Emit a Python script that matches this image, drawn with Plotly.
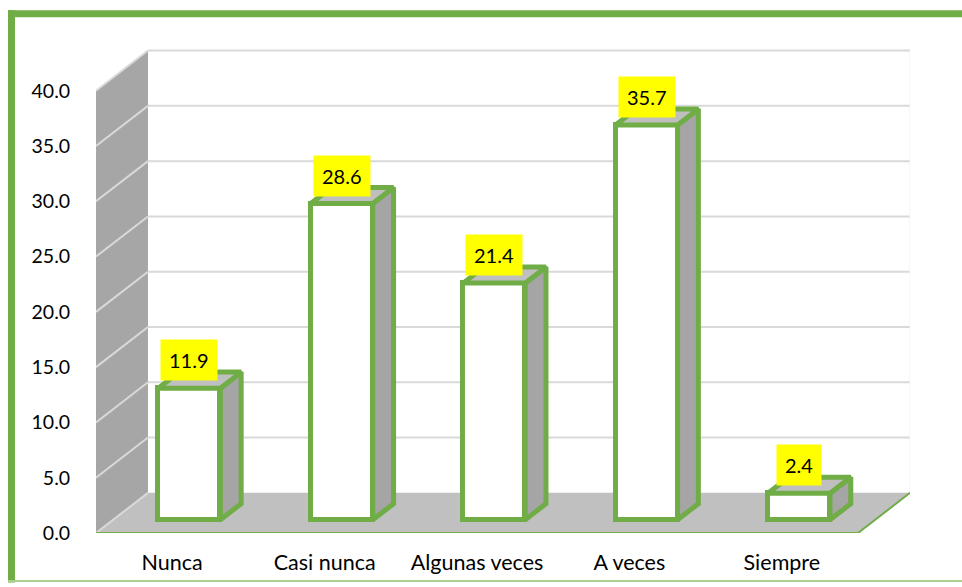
import plotly.graph_objects as go

# ---- data ----
categories = ["Nunca", "Casi nunca", "Algunas veces", "A veces", "Siempre"]
values = [11.9, 28.6, 21.4, 35.7, 2.4]
value_labels = ["11.9", "28.6", "21.4", "35.7", "2.4"]
y_ticks = [0, 5, 10, 15, 20, 25, 30, 35, 40]
y_tick_labels = ["0.0", "5.0", "10.0", "15.0", "20.0", "25.0", "30.0", "35.0", "40.0"]

# ---- style / geometry ----
GREEN = "#70ad47"
W, H = 962, 587
ML, MR, MT, MB = 96, 52, 49, 50
DX, DY = 0.341, 3.63          # depth of the 3D box (x units, y units)
F1, F2 = 0.33, 0.73           # front / back depth fraction of bars
BW = 0.407                    # bar width
YMAX = 43.77
FONT = "Lato"

n = len(categories)
x0w, x1w = -0.5, n - 0.5

shapes = []
# side wall
shapes.append(dict(type="path", layer="below", line=dict(width=0), fillcolor="#a6a6a6",
                   path=f"M {x0w},0 L {x0w+DX},{DY} L {x0w+DX},{40+DY} L {x0w},40 Z"))
# floor
shapes.append(dict(type="path", layer="below", line=dict(width=0), fillcolor="#c0c0c0",
                   path=f"M {x0w},0 L {x1w},0 L {x1w+DX},{DY} L {x0w+DX},{DY} Z"))
# gridlines on back wall and side wall
for v in y_ticks:
    if v > 0:
        shapes.append(dict(type="line", layer="below", x0=x0w + DX, x1=x1w + DX, y0=v + DY, y1=v + DY,
                           line=dict(color="#d9d9d9", width=2)))
    shapes.append(dict(type="line", layer="below", x0=x0w, x1=x0w + DX, y0=v, y1=v + DY,
                       line=dict(color="#d9d9d9", width=2)))
# back wall right edge
shapes.append(dict(type="line", layer="below", x0=x1w + DX, x1=x1w + DX, y0=DY, y1=40 + DY,
                   line=dict(color="#eeeeee", width=1)))
# floor green edges
shapes.append(dict(type="line", layer="below", x0=x0w, x1=x1w, y0=0, y1=0, line=dict(color=GREEN, width=2)))
shapes.append(dict(type="line", layer="below", x0=x1w, x1=x1w + DX, y0=0, y1=DY, line=dict(color=GREEN, width=2)))

# outer frame (paper coordinates from page pixels)
pw, ph = W - ML - MR, H - MT - MB
def px(x):
    return (x - ML) / pw
def py(y):
    return (H - MB - y) / ph
shapes.append(dict(type="rect", xref="paper", yref="paper", layer="above", line=dict(width=0),
                   fillcolor=GREEN, x0=px(8), x1=px(962), y0=py(10), y1=py(17)))
shapes.append(dict(type="rect", xref="paper", yref="paper", layer="above", line=dict(width=0),
                   fillcolor=GREEN, x0=px(8), x1=px(15), y0=py(10), y1=py(587)))
shapes.append(dict(type="line", xref="paper", yref="paper", layer="above",
                   line=dict(color="#a9d18e", width=2), x0=px(8), x1=px(962), y0=py(585.5), y1=py(585.5)))

fig = go.Figure()

base = F1 * DY
xc = [i + F1 * DX for i in range(n)]
fig.add_trace(go.Bar(x=xc, y=values, base=base, width=BW,
                     marker=dict(color="white", line=dict(color=GREEN, width=5)),
                     hoverinfo="skip", showlegend=False))

ddx, ddy = (F2 - F1) * DX, (F2 - F1) * DY
sx, sy, tx, ty = [], [], [], []
for c, v in zip(xc, values):
    xl, xr = c - BW / 2, c + BW / 2
    top = base + v
    sx += [xr, xr + ddx, xr + ddx, xr, xr, None]
    sy += [base, base + ddy, top + ddy, top, base, None]
    tx += [xl, xl + ddx, xr + ddx, xr, xl, None]
    ty += [top, top + ddy, top + ddy, top, top, None]

fig.add_trace(go.Scatter(x=sx, y=sy, mode="lines", fill="toself", fillcolor="#a5a5a5",
                         line=dict(color=GREEN, width=5), hoverinfo="skip", showlegend=False))
fig.add_trace(go.Scatter(x=tx, y=ty, mode="lines", fill="toself", fillcolor="#bfbfbf",
                         line=dict(color=GREEN, width=5), hoverinfo="skip", showlegend=False))

annotations = []
for c, v, t in zip(xc, values, value_labels):
    annotations.append(dict(x=c, y=base + v, text=t, showarrow=False, yanchor="bottom", yshift=7,
                            bgcolor="#ffff00", borderpad=8,
                            font=dict(family=FONT, size=20, color="black")))

fig.update_layout(
    width=W, height=H,
    margin=dict(l=ML, r=MR, t=MT, b=MB),
    paper_bgcolor="white", plot_bgcolor="rgba(0,0,0,0)",
    shapes=shapes, annotations=annotations,
    font=dict(family=FONT, size=20, color="black"),
    bargap=0,
    xaxis=dict(range=[x0w, x1w + DX], tickvals=list(range(n)), ticktext=categories,
               tickfont=dict(size=21.5),
               showgrid=False, zeroline=False, showline=False,
               ticks="outside", ticklen=10, tickcolor="rgba(0,0,0,0)", fixedrange=True),
    yaxis=dict(range=[0, YMAX], tickvals=y_ticks, ticktext=y_tick_labels,
               tickfont=dict(size=19.5),
               showgrid=False, zeroline=False, showline=False,
               ticks="outside", ticklen=21, tickcolor="rgba(0,0,0,0)", fixedrange=True),
)

fig.write_html("out.html", config={"displayModeBar": False},
               post_script="document.body.style.margin='0';document.documentElement.style.overflow='hidden';")
